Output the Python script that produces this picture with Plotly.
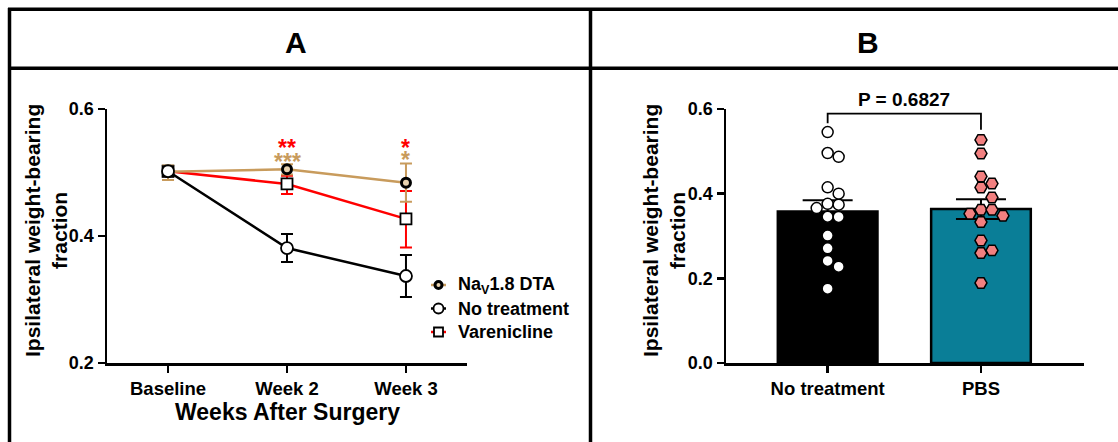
import plotly.graph_objects as go
import numpy as np

W, H = 1118, 442
FONT = "Liberation Sans, Arial, sans-serif"
TAN = "#C89B5C"
RED = "#FF0000"
TEAL = "#0A7E97"
SALMON = "#F28080"

# ---------------- data ----------------
weeks = ["Baseline", "Week 2", "Week 3"]
dta_mean = [0.501, 0.505, 0.484]
dta_err_plus = [0.010, 0.008, 0.030]
dta_err_minus = [0.013, 0.008, 0.030]
nt_mean = [0.502, 0.381, 0.337]
nt_err = [0.008, 0.022, 0.033]
var_mean = [0.502, 0.482, 0.427]
var_err_plus = [0.008, 0.013, 0.044]
var_err_minus = [0.008, 0.016, 0.045]
series_names = ["Na<sub>V</sub>1.8 DTA", "No treatment", "Varenicline"]

groups_b = ["No treatment", "PBS"]
no_treatment_pts = [0.5455, 0.496, 0.487, 0.415, 0.400, 0.376, 0.374, 0.366,
                    0.3455, 0.345, 0.301, 0.271, 0.241, 0.2275, 0.1755]
pbs_pts = [0.527, 0.495, 0.4407, 0.424, 0.4147, 0.391, 0.362, 0.362,
           0.3526, 0.348, 0.333, 0.2895, 0.266, 0.2598, 0.189]
p_text = "P = 0.6827"

# ---------------- layout geometry (pixels) ----------------
def px_x(p):
    return p / W

def px_y(p):
    return 1 - p / H

A_x0, A_x1 = 107, 467
B_x0, B_x1 = 726, 1084
Y_top, Y_bot = 109, 363
A_xrange = [-0.513, 2.513]
B_xrange = [-0.663, 1.672]
B_yrange = [0, 0.6]

B_ppx = (B_x1 - B_x0) / (B_xrange[1] - B_xrange[0])
B_ppy = (Y_bot - Y_top) / (B_yrange[1] - B_yrange[0])


def swarm(vals, grid_px=11.0, diam_px=11.0):
    order = np.argsort(-np.asarray(vals))
    placed = []
    offs = np.zeros(len(vals))
    for i in order:
        y = vals[i] * B_ppy
        cands = [0]
        for j in range(1, 10):
            cands += [j, -j]
        for c in cands:
            x = c * grid_px
            if all((x - px) ** 2 + (y - py) ** 2 >= diam_px ** 2 - 1e-6 for px, py in placed):
                placed.append((x, y))
                offs[i] = x / B_ppx
                break
    return offs


styles = {
    "dta": dict(line=dict(color=TAN, width=2.5),
                marker=dict(symbol="circle", size=9, color="#E8D2B0", line=dict(color="black", width=3))),
    "nt": dict(line=dict(color="black", width=2.5),
               marker=dict(symbol="circle", size=12, color="white", line=dict(color="black", width=1.8))),
    "var": dict(line=dict(color=RED, width=2.5),
                marker=dict(symbol="square", size=11, color="white", line=dict(color="black", width=1.8))),
}

fig = go.Figure()

# ---------------- Panel A ----------------
fig.add_trace(go.Scatter(
    x=[0, 1, 2], y=var_mean, mode="lines+markers", name=series_names[2], **styles["var"],
    error_y=dict(type="data", array=var_err_plus, arrayminus=var_err_minus,
                 color=RED, thickness=2, width=6),
    xaxis="x", yaxis="y", showlegend=False))
fig.add_trace(go.Scatter(
    x=[0, 1, 2], y=dta_mean, mode="lines+markers", name=series_names[0], **styles["dta"],
    error_y=dict(type="data", array=dta_err_plus, arrayminus=dta_err_minus,
                 color=TAN, thickness=2, width=6),
    xaxis="x", yaxis="y", showlegend=False))
fig.add_trace(go.Scatter(
    x=[0, 1, 2], y=nt_mean, mode="lines+markers", name=series_names[1], **styles["nt"],
    error_y=dict(type="data", array=nt_err, color="black", thickness=2, width=6),
    xaxis="x", yaxis="y", showlegend=False))

# ---------------- manual legend (overlay axis in pixel units) ----------------
leg_rows = [285, 308.5, 332]
leg_keys = ["dta", "nt", "var"]
seg_x0, seg_x1, text_x = 431, 446, 456
ann = []
for key, name, ry in zip(leg_keys, series_names, leg_rows):
    st = styles[key]
    fig.add_trace(go.Scatter(x=[seg_x0, seg_x1], y=[ry, ry], mode="lines",
                             line=dict(color=st["line"]["color"], width=2.5),
                             xaxis="x3", yaxis="y3", showlegend=False, hoverinfo="skip"))
    mk = dict(st["marker"])
    mk["size"] = mk["size"] - 2
    fig.add_trace(go.Scatter(x=[(seg_x0 + seg_x1) / 2], y=[ry], mode="markers", marker=mk,
                             xaxis="x3", yaxis="y3", showlegend=False, hoverinfo="skip"))
    ann.append(dict(x=text_x, y=ry, xref="x3", yref="y3", text=name, showarrow=False,
                    xanchor="left", yanchor="middle",
                    font=dict(family=FONT, size=18, color="black", weight="bold")))

# ---------------- Panel B ----------------
means = [np.mean(no_treatment_pts), np.mean(pbs_pts)]
sems = [np.std(no_treatment_pts, ddof=1) / np.sqrt(len(no_treatment_pts)),
        np.std(pbs_pts, ddof=1) / np.sqrt(len(pbs_pts))]

fig.add_trace(go.Bar(
    x=[0, 1], y=means, width=0.65,
    marker=dict(color=["black", TEAL], line=dict(color="black", width=2.5)),
    error_y=dict(type="data", array=sems, color="black", thickness=2, width=25),
    showlegend=False, xaxis="x2", yaxis="y2"))

nt_off = swarm(no_treatment_pts)
pbs_off = swarm(pbs_pts)
fig.add_trace(go.Scatter(
    x=0 + nt_off, y=no_treatment_pts, mode="markers",
    marker=dict(symbol="circle", size=11, color="white", line=dict(color="black", width=1.5)),
    showlegend=False, xaxis="x2", yaxis="y2"))
fig.add_trace(go.Scatter(
    x=1 + pbs_off, y=pbs_pts, mode="markers",
    marker=dict(symbol="hexagon2", size=12, color=SALMON, line=dict(color="black", width=1.5)),
    showlegend=False, xaxis="x2", yaxis="y2"))

axis_common = dict(showline=True, linecolor="black", linewidth=2.5, ticks="outside",
                   ticklen=7, tickwidth=2.5, tickcolor="black", showgrid=False,
                   zeroline=False, automargin=False,
                   tickfont=dict(family=FONT, size=18, color="black", weight="bold"))

fig.update_layout(
    width=W, height=H, margin=dict(l=0, r=0, t=0, b=0, pad=0, autoexpand=False),
    paper_bgcolor="white", plot_bgcolor="rgba(0,0,0,0)",
    font=dict(family=FONT, color="black"),
    xaxis=dict(domain=[px_x(A_x0), px_x(A_x1)], range=A_xrange,
               tickvals=[0, 1, 2], ticktext=weeks, anchor="y", **axis_common),
    yaxis=dict(domain=[px_y(Y_bot), px_y(Y_top)], range=[0.2, 0.6],
               tickvals=[0.2, 0.4, 0.6], tickformat=".1f", anchor="x", **axis_common),
    xaxis2=dict(domain=[px_x(B_x0), px_x(B_x1)], range=B_xrange,
                tickvals=[0, 1], ticktext=groups_b, anchor="y2", **axis_common),
    yaxis2=dict(domain=[px_y(Y_bot), px_y(Y_top)], range=B_yrange,
                tickvals=[0, 0.2, 0.4, 0.6], tickformat=".1f", anchor="x2", **axis_common),
    xaxis3=dict(domain=[0, 1], range=[0, W], visible=False, anchor="y3", fixedrange=True),
    yaxis3=dict(domain=[0, 1], range=[H, 0], visible=False, anchor="x3", fixedrange=True),
    showlegend=False,
    barmode="overlay",
)
fig.update_xaxes(tickfont=dict(size=18.5), selector=dict(anchor="y"))
fig.update_xaxes(tickfont=dict(size=18.5), selector=dict(anchor="y2"))

# ---------------- annotations ----------------
ytitle = "Ipsilateral weight-bearing<br>fraction"
for cx in (46, 664):
    ann.append(dict(x=px_x(cx), y=px_y(231), xref="paper", yref="paper", text=ytitle,
                    textangle=-90, showarrow=False, xanchor="center", yanchor="middle",
                    font=dict(family=FONT, size=21, color="black", weight="bold")))
ann.append(dict(x=px_x((A_x0 + A_x1) / 2), y=px_y(412), xref="paper", yref="paper",
                text="Weeks After Surgery", showarrow=False, xanchor="center", yanchor="middle",
                font=dict(family=FONT, size=23, color="black", weight="bold")))
ann.append(dict(x=px_x(296), y=px_y(43), xref="paper", yref="paper", text="A",
                showarrow=False, xanchor="center", yanchor="middle",
                font=dict(family=FONT, size=30, color="black", weight="bold")))
ann.append(dict(x=px_x(868), y=px_y(43), xref="paper", yref="paper", text="B",
                showarrow=False, xanchor="center", yanchor="middle",
                font=dict(family=FONT, size=30, color="black", weight="bold")))
# significance stars
stars = [(1, "**", RED, 148), (1, "***", TAN, 162), (2, "*", RED, 148), (2, "*", TAN, 160)]
for xi, s, c, py in stars:
    ann.append(dict(x=xi, y=px_y(py), xref="x", yref="paper", text=s, showarrow=False,
                    xanchor="center", yanchor="middle",
                    font=dict(family=FONT, size=23, color=c, weight="bold")))
# P value
ann.append(dict(x=0.5, y=px_y(100), xref="x2", yref="paper", text=p_text, showarrow=False,
                xanchor="center", yanchor="middle",
                font=dict(family=FONT, size=19, color="black", weight="bold")))
fig.update_layout(annotations=ann)

# ---------------- shapes: frame + bracket ----------------
shapes = []
lw = 3.5
frame = [
    (8, 9.2, W, 9.2), (9.5, 8, 9.5, H), (8, 68.3, W, 68.3), (590.5, 8, 590.5, H),
]
for x0, y0, x1, y1 in frame:
    shapes.append(dict(type="line", xref="paper", yref="paper",
                       x0=px_x(x0), y0=px_y(y0), x1=px_x(x1), y1=px_y(y1),
                       line=dict(color="black", width=lw)))
br_y = 0.589
shapes.append(dict(type="path", xref="x2", yref="y2",
                   path=f"M 0,{max(no_treatment_pts) + 0.021} L 0,{br_y} L 1,{br_y} L 1,{max(pbs_pts) + 0.024}",
                   line=dict(color="black", width=1.8)))
fig.update_layout(shapes=shapes)

post = ("document.documentElement.style.margin='0px';"
        "document.documentElement.style.overflow='hidden';"
        "document.body.style.margin='0px';document.body.style.padding='0px';"
        "document.body.style.overflow='hidden';"
        "var gd=document.getElementById('{plot_id}');"
        "gd.style.position='fixed';gd.style.left='0px';gd.style.top='0px';")
fig.write_html("out.html", config={"displayModeBar": False, "staticPlot": True}, post_script=post)
